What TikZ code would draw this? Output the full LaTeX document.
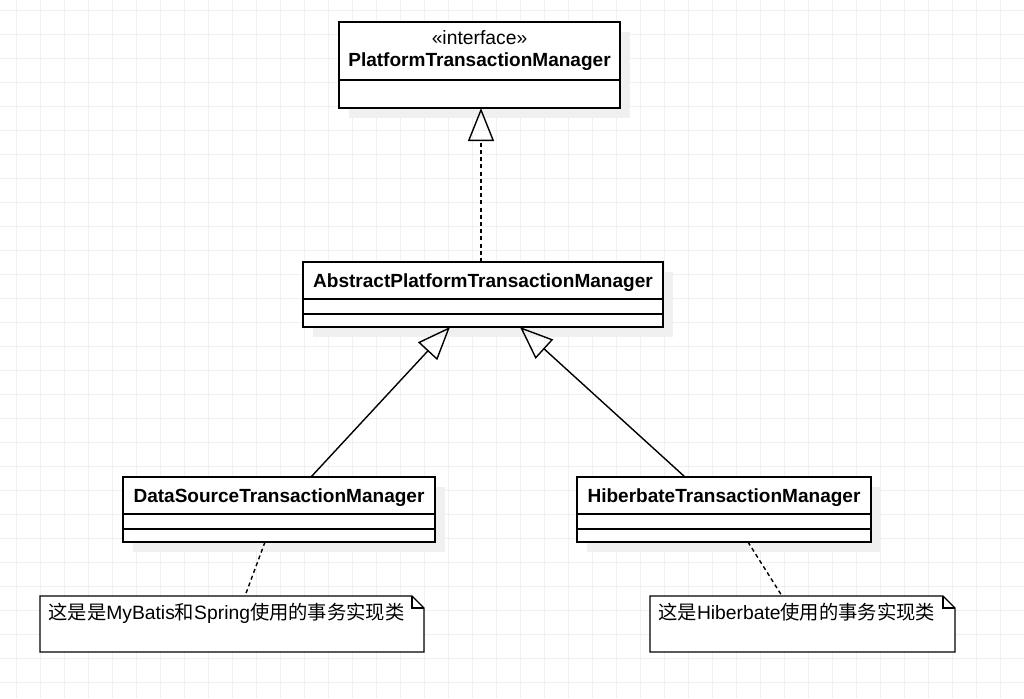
\documentclass[tikz,border=0pt]{standalone}
\usepackage{fontspec}
\setmainfont{Liberation Sans}
\newfontfamily\cjk{Noto Sans CJK SC}
\usetikzlibrary{arrows.meta,shadows}
\tikzset{
  classbox/.style={draw, line width=0.7pt, fill=white, inner sep=0pt, outer sep=0pt,
    drop shadow={shadow xshift=5pt, shadow yshift=-5pt, fill=black!6, opacity=1}},
  notebox/.style={inner sep=0pt, outer sep=0pt},
  clsname/.style={font=\fontsize{9.52}{11.4}\selectfont\bfseries, anchor=base, inner sep=0pt},
  stereo/.style={anchor=base, inner sep=0pt},
  notetext/.style={anchor=base west, inner sep=0pt},
  gen/.style={-{Triangle[open,length=16.5pt,width=13pt]}, line width=0.7pt},
  real/.style={gen, dash pattern=on 2pt off 1.6pt},
  anchorline/.style={line width=0.7pt, dash pattern=on 2pt off 1.6pt},
  gridline/.style={draw=black!6, line width=0.5pt},
}
\begin{document}
\begin{tikzpicture}[x=0.5pt, y=-0.5pt, line join=miter, font=\fontsize{9.65}{11.6}\selectfont]
  \useasboundingbox[fill=white] (0,0) rectangle (1024,698);
  % grid
  \foreach \gx in {16,40,...,1024} \draw[gridline] (\gx,0) -- (\gx,698);
  \foreach \gy in {10,34,...,698} \draw[gridline] (0,\gy) -- (1024,\gy);

  % classes
  \node[classbox, minimum width=140.5pt, minimum height=43pt] (ptm) at (479.5,65) {};
  \node[stereo] (ptmstereo) at ([yshift=-11pt]ptm.north) {«interface»};
  \node[clsname] (ptmname) at ([yshift=-22pt]ptm.north) {PlatformTransactionManager};
  \draw[line width=0.7pt] ([yshift=-29pt]ptm.north west) -- ([yshift=-29pt]ptm.north east);

  \node[classbox, minimum width=180pt, minimum height=32.5pt] (aptm) at (483,294.5) {};
  \node[clsname] (aptmname) at ([yshift=-12.5pt]aptm.north) {AbstractPlatformTransactionManager};

  \node[classbox, minimum width=156pt, minimum height=32.5pt] (dstm) at (279,509.5) {};
  \node[clsname] (dstmname) at ([yshift=-12.5pt]dstm.north) {DataSourceTransactionManager};

  \node[classbox, minimum width=147pt, minimum height=32.5pt] (htm) at (724,509.5) {};
  \node[clsname] (htmname) at ([yshift=-12.5pt]htm.north) {HiberbateTransactionManager};

  \foreach \c in {aptm,dstm,htm}{
    \draw[line width=0.7pt] ([yshift=-18.5pt]\c.north west) -- ([yshift=-18.5pt]\c.north east);
    \draw[line width=0.7pt] ([yshift=-26pt]\c.north west) -- ([yshift=-26pt]\c.north east);
  }

  % notes
  \node[notebox, minimum width=192pt, minimum height=28pt] (note1) at (232,624) {};
  \node[notebox, minimum width=152.5pt, minimum height=28pt] (note2) at (802.5,624) {};
  \foreach \n in {note1,note2}{
    \draw[line width=0.7pt, fill=white] (\n.north west) -- ([xshift=-6pt]\n.north east)
      -- ([yshift=-6pt]\n.north east) -- (\n.south east) -- (\n.south west) -- cycle;
    \draw[line width=0.7pt] ([xshift=-6pt]\n.north east) |- ([yshift=-6pt]\n.north east);
  }
  \node[notetext] (note1text) at ([xshift=4pt,yshift=-11.5pt]note1.north west)
    {{\cjk 这是是}MyBatis{\cjk 和}Spring{\cjk 使用的事务实现类}};
  \node[notetext] (note2text) at ([xshift=4pt,yshift=-11.5pt]note2.north west)
    {{\cjk 这是}Hiberbate{\cjk 使用的事务实现类}};

  % relations
  \draw[real] ([xshift=-1pt]aptm.north) -- ([xshift=0.75pt]ptm.south);
  \draw[gen] ([xshift=16pt]dstm.north) -- ([xshift=-16.5pt]aptm.south);
  \draw[gen] ([xshift=-19.5pt]htm.north) -- ([xshift=18.5pt]aptm.south);
  \draw[anchorline] ([xshift=-7pt]dstm.south) -- ([xshift=6.5pt]note1.north);
  \draw[anchorline] ([xshift=12pt]htm.south) -- ([xshift=-10.25pt]note2.north);
\end{tikzpicture}
\end{document}
